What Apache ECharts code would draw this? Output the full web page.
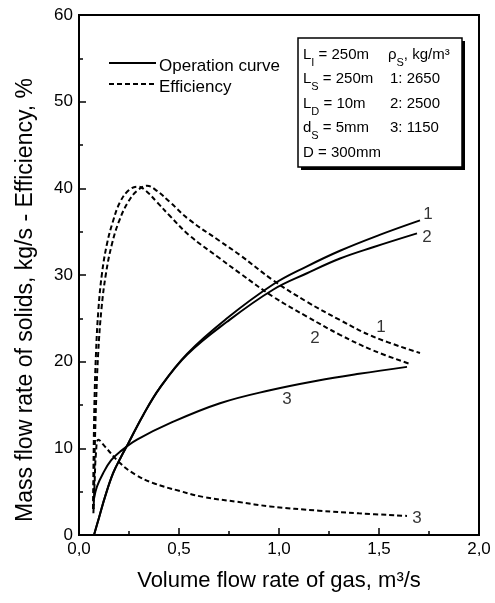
<!DOCTYPE html>
<html>
<head>
<meta charset="utf-8">
<script src="https://cdn.jsdelivr.net/npm/echarts@6/dist/echarts.min.js"></script>
<style>
  html, body { margin: 0; padding: 0; background: #fff; }
  #chart { width: 495px; height: 603px; }
</style>
</head>
<body>
<div id="chart"></div>
<script>
// operation curves (mass flow rate of solids, kg/s)
const op1 = [[0.075, 0], [0.1, 2.0], [0.13, 4.4], [0.17, 7.1], [0.21, 9.0], [0.247, 10.6], [0.32, 13.8],
  [0.405, 17.0], [0.54, 20.9], [0.74, 25.0], [0.97, 28.9], [1.14, 31.0], [1.305, 32.8], [1.5, 34.6], [1.705, 36.3]]
const op2 = [[0.075, 0], [0.1, 2.0], [0.13, 4.4], [0.17, 7.1], [0.21, 9.0], [0.247, 10.6], [0.32, 13.8],
  [0.405, 17.0], [0.54, 20.8], [0.74, 24.6], [0.97, 28.3], [1.14, 30.2], [1.305, 31.9], [1.47, 33.2], [1.69, 34.8]]
const op3 = [[0.075, 4.2], [0.09, 5.6], [0.12, 7.1], [0.16, 8.6], [0.205, 9.6], [0.29, 11.0], [0.455, 12.9],
  [0.705, 15.2], [0.955, 16.7], [1.19, 17.8], [1.4, 18.6], [1.64, 19.4]]

// efficiency, %
const eff1 = [[0.074, 3], [0.078, 9], [0.085, 15], [0.096, 21], [0.112, 26], [0.135, 30.2], [0.165, 33.6],
  [0.2, 36.2], [0.245, 38.4], [0.29, 39.7], [0.34, 40.3], [0.39, 39.7], [0.455, 38.4], [0.55, 36.4],
  [0.705, 33.9], [0.805, 32.3], [0.97, 29.4], [1.14, 26.9], [1.305, 24.8], [1.47, 22.9], [1.705, 21.0]]
const eff2 = [[0.07, 3], [0.073, 9], [0.077, 15], [0.085, 21], [0.097, 26], [0.115, 30.2], [0.14, 33.6],
  [0.17, 36.2], [0.205, 38.4], [0.25, 39.8], [0.295, 40.2], [0.335, 39.7], [0.39, 38.4], [0.455, 36.8],
  [0.55, 34.6], [0.705, 31.9], [0.805, 30.2], [0.97, 27.5], [1.14, 25.2], [1.305, 23.1], [1.47, 21.3], [1.66, 19.7]]
const eff3 = [[0.072, 2.5], [0.078, 6], [0.085, 9.5], [0.097, 11], [0.13, 10.2], [0.205, 8.3], [0.28, 7.0],
  [0.37, 6.0], [0.5, 5.1], [0.62, 4.4], [0.8, 3.8], [0.955, 3.3], [1.2, 2.8], [1.4, 2.5], [1.64, 2.2]]

// curve numbers written next to the lines
const curveLabels = ['1', '2', '1', '2', '3', '3']
const curveLabelPos = [[1.745, 37.0], [1.74, 34.4], [1.51, 24.0], [1.18, 22.7], [1.04, 15.6], [1.69, 1.9]]

const xTicks = { min: 0, max: 2, interval: 0.5 }
const yTicks = { min: 0, max: 60, interval: 10 }

const FONT = "'Liberation Sans', Arial, sans-serif"

const chart = echarts.init(document.getElementById('chart'))

function curve(name, data, dashed) {
  return {
    name,
    type: 'line',
    data,
    showSymbol: false,
    smooth: 0.4,
    silent: true,
    lineStyle: { color: '#000', width: 2, type: dashed ? [5, 3] : 'solid' }
  }
}

const sub = { fontSize: 11, fontFamily: FONT, padding: [15, 0, 0, 0] }
const norm = { fontSize: 15, fontFamily: FONT }

function boxLine(x, y, text) {
  return {
    type: 'text',
    x, y,
    style: {
      text,
      rich: { n: norm, s: sub },
      fill: '#000',
      verticalAlign: 'middle'
    }
  }
}

chart.setOption({
  backgroundColor: '#fff',
  animation: false,
  grid: {
    left: 79, right: 16, top: 15, bottom: 68,
    show: true, borderColor: '#000', borderWidth: 2
  },
  xAxis: {
    type: 'value',
    ...xTicks,
    name: 'Volume flow rate of gas, m³/s',
    nameLocation: 'middle',
    nameGap: 35,
    nameTextStyle: { fontSize: 22, fontFamily: FONT, color: '#000' },
    axisLine: { lineStyle: { color: '#000', width: 2 } },
    axisTick: { inside: true, length: 7, lineStyle: { color: '#000', width: 1.5 } },
    minorTick: { show: true, splitNumber: 2, length: 4, lineStyle: { color: '#000', width: 1.5 } },
    splitLine: { show: false },
    axisLabel: {
      fontSize: 17, fontFamily: FONT, color: '#000', margin: 6,
      formatter: (v) => v.toFixed(1).replace('.', ',')
    }
  },
  yAxis: {
    type: 'value',
    ...yTicks,
    axisLine: { lineStyle: { color: '#000', width: 2 } },
    axisTick: { inside: true, length: 7, lineStyle: { color: '#000', width: 1.5 } },
    minorTick: { show: true, splitNumber: 2, length: 4, lineStyle: { color: '#000', width: 1.5 } },
    splitLine: { show: false },
    axisLabel: { fontSize: 17, fontFamily: FONT, color: '#000', margin: 6 }
  },
  series: [
    curve('op1', op1, false),
    curve('op2', op2, false),
    curve('op3', op3, false),
    curve('eff1', eff1, true),
    curve('eff2', eff2, true),
    curve('eff3', eff3, true),
    {
      type: 'scatter',
      silent: true,
      symbolSize: 1,
      itemStyle: { color: 'rgba(0,0,0,0)' },
      data: curveLabels.map((t, i) => ({ name: t, value: curveLabelPos[i] })),
      label: {
        show: true, position: 'inside', formatter: '{b}',
        fontSize: 17, fontFamily: FONT, color: '#000'
      }
    }
  ],
  graphic: [
    {
      type: 'text',
      x: 26, y: 300,
      rotation: Math.PI / 2,
      style: {
        text: 'Mass flow rate of solids, kg/s - Efficiency, %',
        font: '23px ' + FONT,
        fill: '#000',
        align: 'center',
        verticalAlign: 'middle'
      }
    },
    // legend
    { type: 'line', shape: { x1: 109, y1: 63, x2: 156, y2: 63 }, style: { stroke: '#000', lineWidth: 2 } },
    { type: 'line', shape: { x1: 109, y1: 84, x2: 156, y2: 84 }, style: { stroke: '#000', lineWidth: 2, lineDash: [5, 3] } },
    { type: 'text', x: 159, y: 66, style: { text: 'Operation curve', font: '17px ' + FONT, fill: '#000', verticalAlign: 'middle' } },
    { type: 'text', x: 159, y: 87, style: { text: 'Efficiency', font: '17px ' + FONT, fill: '#000', verticalAlign: 'middle' } },
    // parameter box
    { type: 'rect', shape: { x: 301, y: 41, width: 164, height: 129 }, style: { fill: '#000' } },
    { type: 'rect', shape: { x: 298, y: 38, width: 164, height: 129 }, style: { fill: '#fff', stroke: '#000', lineWidth: 1.5 } },
    boxLine(303, 55, '{n|L}{s|I}{n| = 250m}'),
    boxLine(303, 79, '{n|L}{s|S}{n| = 250m}'),
    boxLine(303, 104, '{n|L}{s|D}{n| = 10m}'),
    boxLine(303, 128, '{n|d}{s|S}{n| = 5mm}'),
    boxLine(303, 153, '{n|D = 300mm}'),
    boxLine(388, 55, '{n|ρ}{s|S}{n|, kg/m³}'),
    boxLine(390, 79, '{n|1: 2650}'),
    boxLine(390, 104, '{n|2: 2500}'),
    boxLine(390, 128, '{n|3: 1150}')
  ]
})
</script>
</body>
</html>
